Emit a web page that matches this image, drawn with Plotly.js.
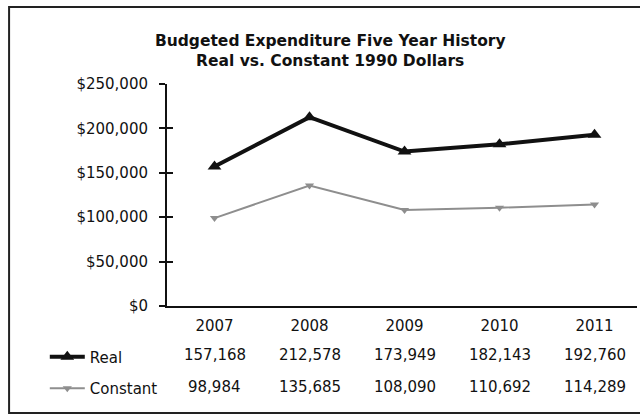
<!DOCTYPE html>
<html>
<head>
<meta charset="utf-8">
<script src="https://cdn.plot.ly/plotly-3.0.1.min.js"></script>
<style>html,body{margin:0;padding:0;background:#fff;}#chart{width:640px;height:419px;}</style>
</head>
<body>
<div id="chart"></div>
<script>
const years = ["2007", "2008", "2009", "2010", "2011"];
const realValues = [157168, 212578, 173949, 182143, 192760];
const constantValues = [98984, 135685, 108090, 110692, 114289];
const yTickValues = [0, 50000, 100000, 150000, 200000, 250000];
const yTickLabels = ["$0", "$50,000", "$100,000", "$150,000", "$200,000", "$250,000"];

const FONT = "DejaVu Sans, Verdana, sans-serif";
const fmt = v => v.toLocaleString("en-US");

const traces = [
  {
    x: years, y: realValues, name: "Real", type: "scatter", mode: "lines+markers",
    line: {color: "#111", width: 4},
    marker: {symbol: "triangle-up", size: 12, color: "#111"},
    legendgroup: "a"
  },
  {
    x: years, y: constantValues, name: "Constant", type: "scatter", mode: "lines+markers",
    line: {color: "#8e8e8e", width: 2},
    marker: {symbol: "triangle-down", size: 8, color: "#8e8e8e"},
    legendgroup: "b"
  },
  {x: years, y: [null, null, null, null, null], yaxis: "y2", showlegend: false, hoverinfo: "skip", type: "scatter", mode: "lines"}
];

const annotations = [];
years.forEach((yr, i) => {
  annotations.push({x: i, y: -0.2207, xref: "x", yref: "paper", xanchor: "center", yanchor: "middle", text: fmt(realValues[i]), showarrow: false, font: {family: FONT, size: 15, color: "#111"}});
  annotations.push({x: i, y: -0.365, xref: "x", yref: "paper", xanchor: "center", yanchor: "middle", text: fmt(constantValues[i]), showarrow: false, font: {family: FONT, size: 15, color: "#111"}});
});

const layout = {
  width: 640, height: 419,
  margin: {l: 167, r: 3, t: 84, b: 113},
  paper_bgcolor: "#fff", plot_bgcolor: "#fff",
  font: {family: FONT, size: 15, color: "#111"},
  title: {
    text: "<b>Budgeted Expenditure Five Year History<br>Real vs. Constant 1990 Dollars</b>",
    font: {family: FONT, size: 15.5, color: "#111"},
    xref: "container", x: 0.516, xanchor: "center",
    yref: "container", y: 0.89, yanchor: "top"
  },
  xaxis: {
    type: "category", categoryarray: years, range: [-0.5, 4.447],
    showgrid: false, zeroline: false, showline: true, linecolor: "#111", linewidth: 2,
    ticks: "", tickfont: {family: FONT, size: 15, color: "#111"}, ticklabelstandoff: 5,
    fixedrange: true
  },
  yaxis: {
    range: [0, 250000], tickvals: yTickValues, ticktext: yTickLabels,
    showgrid: false, zeroline: false, showline: true, linecolor: "#111", linewidth: 2,
    ticks: "outside", ticklen: 6, tickwidth: 2, tickcolor: "#111",
    tickfont: {family: FONT, size: 15, color: "#111"}, ticklabelstandoff: 8,
    fixedrange: true
  },
  yaxis2: {
    overlaying: "y", side: "left", range: [0, 250000], tickvals: yTickValues,
    showticklabels: false, showgrid: false, zeroline: false, showline: false,
    ticks: "inside", ticklen: 6, tickwidth: 2, tickcolor: "#111", fixedrange: true
  },
  showlegend: true,
  legend: {
    x: -0.26, xanchor: "left", y: -0.155, yanchor: "top",
    traceorder: "grouped", tracegroupgap: 9,
    font: {family: FONT, size: 15, color: "#111"},
    bgcolor: "rgba(0,0,0,0)", itemwidth: 35
  },
  annotations: annotations,
  shapes: [
    {type: "rect", xref: "paper", yref: "paper", x0: -0.336, x1: 1.03, y0: -0.482, y1: 1.347,
     line: {color: "#222", width: 2}, fillcolor: "rgba(0,0,0,0)"}
  ]
};

Plotly.newPlot("chart", traces, layout, {displayModeBar: false, staticPlot: true});
</script>
</body>
</html>
